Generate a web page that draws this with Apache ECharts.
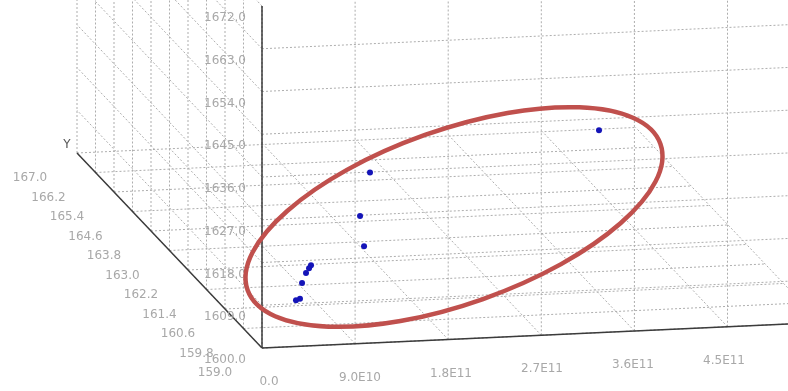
<!DOCTYPE html>
<html>
<head>
<meta charset="utf-8">
<script src="https://cdn.jsdelivr.net/npm/echarts@6/dist/echarts.min.js"></script>
<style>
  html, body { margin: 0; padding: 0; background: #fff; }
  #chart { width: 788px; height: 391px; }
</style>
</head>
<body>
<div id="chart"></div>
<script>
// ---- data ----
const xTicks = [0, 9e10, 1.8e11, 2.7e11, 3.6e11, 4.5e11, 5.4e11];
const xLabels = ['0.0', '9.0E10', '1.8E11', '2.7E11', '3.6E11', '4.5E11'];
const yTicks = [159.0, 159.8, 160.6, 161.4, 162.2, 163.0, 163.8, 164.6, 165.4, 166.2, 167.0];
const yLabels = ['159.0', '159.8', '160.6', '161.4', '162.2', '163.0', '163.8', '164.6', '165.4', '166.2', '167.0'];
const zTicks = [1600, 1609, 1618, 1627, 1636, 1645, 1654, 1663, 1672];
const zLabels = ['1600.0', '1609.0', '1618.0', '1627.0', '1636.0', '1645.0', '1654.0', '1663.0', '1672.0'];

const pointX = [1.491e11, 1.283e11, 1.210e11, 7.42e10, 7.23e10, 6.49e10, 5.66e10, 4.79e10, 4.18e10, 4.152e11];
const pointY = [161.0, 160.5, 160.0, 160.2, 160.2, 160.0, 159.8, 159.5, 159.4, 163.0];
const pointZ = [1625.2, 1618.8, 1615.1, 1610.5, 1609.9, 1610.0, 1609.0, 1607.3, 1607.6, 1621.2];

const X_MIN = 0, X_MAX = 5.4e11;
const Y_MIN = 159, Y_MAX = 167;
const Z_MIN = 1600, Z_MAX = 1672;

// ---- layout of the fake 3d box ----
const DEPTH_DX = -185;   // screen shift of the Y axis, full range
const DEPTH_DY = -195;
const TILT = -0.0457;    // x axis climbs slightly to the right

const project = (api, x, y, z) => {
    const p = api.coord([x, z]);
    const o = api.coord([X_MIN, Z_MIN]);
    const t = (y - Y_MIN) / (Y_MAX - Y_MIN);
    return [p[0] + t * DEPTH_DX, p[1] + (p[0] - o[0]) * TILT + t * DEPTH_DY];
};

// grid segments on the three walls
const gridSegs = [];
xTicks.forEach(x => {
    gridSegs.push([x, Y_MIN, Z_MIN, x, Y_MIN, Z_MAX]);
    gridSegs.push([x, Y_MIN, Z_MIN, x, Y_MAX, Z_MIN]);
});
zTicks.forEach(z => {
    if (z < Z_MAX) gridSegs.push([X_MIN, Y_MIN, z, X_MAX, Y_MIN, z]);
    gridSegs.push([X_MIN, Y_MIN, z, X_MIN, Y_MAX, z]);
});
yTicks.forEach(y => {
    gridSegs.push([X_MIN, y, Z_MIN, X_MIN, y, Z_MAX]);
    gridSegs.push([X_MIN, y, Z_MIN, X_MAX, y, Z_MIN]);
});

const axisSegs = [
    [X_MIN, Y_MIN, Z_MIN, X_MAX, Y_MIN, Z_MIN],
    [X_MIN, Y_MIN, Z_MIN, X_MIN, Y_MAX, Z_MIN],
    [X_MIN, Y_MIN, Z_MIN, X_MIN, Y_MIN, Z_MAX]
];

const segRender = (stroke, width, dash) => (params, api) => {
    const a = project(api, api.value(0), api.value(1), api.value(2));
    const b = project(api, api.value(3), api.value(4), api.value(5));
    return {
        type: 'line',
        shape: { x1: a[0], y1: a[1], x2: b[0], y2: b[1] },
        style: { stroke: stroke, lineWidth: width, lineDash: dash }
    };
};

const labelFont = '12px "DejaVu Sans", sans-serif';
const labelColor = '#a8a8a8';

const textEl = (p, text, color, font) => ({
    type: 'text',
    x: p[0],
    y: p[1],
    style: { text: text, fill: color, font: font, align: 'center', verticalAlign: 'middle' }
});

const myChart = echarts.init(document.getElementById('chart'));
const options = {
    animation: false,
    grid: {
        left: 262,
        top: 6,
        width: (X_MAX - X_MIN) * 93.1 / 9e10,
        height: 342,
        outerBoundsMode: 'none',
        containLabel: false
    },
    xAxis: { type: 'value', min: X_MIN, max: X_MAX, show: false },
    yAxis: { type: 'value', min: Z_MIN, max: Z_MAX, show: false },
    graphic: [
        {
            type: 'ellipse',
            x: 454,
            y: 217,
            rotation: 19.5 * Math.PI / 180,
            shape: { cx: 0, cy: 0, rx: 219, ry: 87 },
            style: { fill: null, stroke: '#c0504d', lineWidth: 4.5 },
            z: 100
        }
    ],
    series: [
        {
            type: 'custom',
            data: gridSegs,
            renderItem: segRender('#adadad', 1, [2, 2]),
            z: 1
        },
        {
            type: 'custom',
            data: axisSegs,
            renderItem: segRender('#3c3c3c', 1.5, null),
            z: 2
        },
        {
            // z tick labels
            type: 'custom',
            data: zTicks.map(z => [X_MIN, Y_MIN, z]),
            renderItem: (params, api) => {
                const p = project(api, api.value(0), api.value(1), api.value(2));
                return textEl([p[0] - 37, p[1] + 12], zLabels[params.dataIndex], labelColor, labelFont);
            },
            z: 3
        },
        {
            // y tick labels
            type: 'custom',
            data: yTicks.map(y => [X_MIN, y, Z_MIN]),
            renderItem: (params, api) => {
                const p = project(api, api.value(0), api.value(1), api.value(2));
                return textEl([p[0] - 47, p[1] + 25], yLabels[params.dataIndex], labelColor, labelFont);
            },
            z: 3
        },
        {
            // x tick labels
            type: 'custom',
            data: xLabels.map((s, i) => [xTicks[i], Y_MIN, Z_MIN]),
            renderItem: (params, api) => {
                const p = project(api, api.value(0), api.value(1), api.value(2));
                const o = project(api, X_MIN, Y_MIN, Z_MIN);
                const shift = 7 - 0.0225 * (p[0] - o[0]);
                return textEl([p[0] + shift, p[1] + 34], xLabels[params.dataIndex], labelColor, labelFont);
            },
            z: 3
        },
        {
            // axis name
            type: 'custom',
            data: [[X_MIN, Y_MAX, Z_MIN]],
            renderItem: (params, api) => {
                const p = project(api, api.value(0), api.value(1), api.value(2));
                return textEl([p[0] - 10, p[1] - 8], 'Y', '#555', labelFont);
            },
            z: 3
        },
        {
            type: 'custom',
            data: pointX.map((x, i) => [x, pointY[i], pointZ[i]]),
            renderItem: (params, api) => {
                const p = project(api, api.value(0), api.value(1), api.value(2));
                return {
                    type: 'circle',
                    shape: { cx: p[0], cy: p[1], r: 3 },
                    style: { fill: '#1414b8' }
                };
            },
            z: 4
        }
    ]
};
myChart.setOption(options);
</script>
</body>
</html>
